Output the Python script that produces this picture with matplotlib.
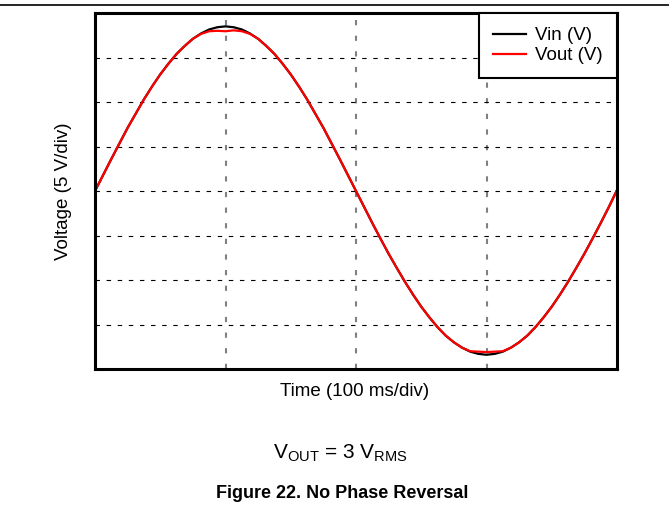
import matplotlib
matplotlib.use("Agg")
import matplotlib.pyplot as plt
from matplotlib.lines import Line2D

# time in divisions (100 ms/div), sampled every 1/16 div
time_div = [0, 0.0625, 0.125, 0.1875, 0.25, 0.3125, 0.375, 0.4375, 0.5,
            0.5625, 0.625, 0.6875, 0.75, 0.8125, 0.875, 0.9375, 1.0,
            1.0625, 1.125, 1.1875, 1.25, 1.3125, 1.375, 1.4375, 1.5,
            1.5625, 1.625, 1.6875, 1.75, 1.8125, 1.875, 1.9375, 2.0,
            2.0625, 2.125, 2.1875, 2.25, 2.3125, 2.375, 2.4375, 2.5,
            2.5625, 2.625, 2.6875, 2.75, 2.8125, 2.875, 2.9375, 3.0,
            3.0625, 3.125, 3.1875, 3.25, 3.3125, 3.375, 3.4375, 3.5,
            3.5625, 3.625, 3.6875, 3.75, 3.8125, 3.875, 3.9375, 4.0]
# voltage in divisions (5 V/div)
vin = [0.0, 0.36, 0.72, 1.07, 1.42, 1.74, 2.06, 2.35, 2.62,
       2.86, 3.08, 3.26, 3.42, 3.54, 3.63, 3.68, 3.70,
       3.68, 3.63, 3.54, 3.42, 3.26, 3.08, 2.86, 2.62,
       2.35, 2.06, 1.74, 1.42, 1.07, 0.72, 0.36, 0.0,
       -0.36, -0.72, -1.07, -1.41, -1.73, -2.04, -2.33, -2.60,
       -2.84, -3.06, -3.25, -3.40, -3.52, -3.61, -3.66, -3.68,
       -3.66, -3.61, -3.52, -3.40, -3.25, -3.06, -2.84, -2.60,
       -2.33, -2.04, -1.73, -1.41, -1.07, -0.72, -0.36, 0.02]
vout = [0.0, 0.36, 0.72, 1.07, 1.42, 1.74, 2.06, 2.35, 2.62,
        2.86, 3.08, 3.26, 3.42, 3.53, 3.59, 3.60, 3.59,
        3.61, 3.59, 3.53, 3.42, 3.26, 3.08, 2.86, 2.62,
        2.35, 2.06, 1.74, 1.42, 1.07, 0.72, 0.36, 0.0,
        -0.36, -0.72, -1.07, -1.41, -1.73, -2.04, -2.33, -2.60,
        -2.84, -3.06, -3.25, -3.40, -3.52, -3.60, -3.61, -3.62,
        -3.61, -3.60, -3.52, -3.40, -3.25, -3.06, -2.84, -2.60,
        -2.33, -2.04, -1.73, -1.41, -1.07, -0.72, -0.36, 0.02]

plt.rcParams["font.family"] = ["Liberation Sans", "DejaVu Sans"]

fig = plt.figure(figsize=(6.69, 5.12), dpi=100)
ax = fig.add_axes([95 / 669, 1 - 369 / 512, 522 / 669, 356 / 512])

ax.plot(time_div, vin, color="black", lw=1.6, label="Vin (V)")
ax.plot(time_div, vout, color="#ff0000", lw=1.6, label="Vout (V)")

ax.set_xlim(0, 4)
ax.set_ylim(-4, 4)
ax.set_xticks([1, 2, 3])
ax.set_yticks([-3, -2, -1, 0, 1, 2, 3])
ax.tick_params(length=0, labelbottom=False, labelleft=False)
ax.xaxis.grid(True, color="#808080", lw=1.5, ls=(0, (2.5, 5)))
ax.yaxis.grid(True, color="black", lw=0.8, ls=(0, (4, 6)))
for sp in ax.spines.values():
    sp.set_linewidth(2.2)

ax.set_xlabel("Time (100 ms/div)", fontsize=13.5)
ax.xaxis.set_label_coords(0.498, -0.062)
ax.xaxis.label.set_va("center")
ax.set_ylabel("Voltage (5 V/div)", fontsize=13.5)
ax.yaxis.set_label_coords(-0.06, 0.5)
ax.yaxis.label.set_va("center")

leg = ax.legend(loc="upper right", fontsize=13.5, fancybox=False,
                framealpha=1, edgecolor="black", borderaxespad=0,
                handlelength=1.75, handletextpad=0.5, labelspacing=0.15,
                borderpad=0.75)
leg.get_frame().set_linewidth(1.5)

fig.text(340 / 669, 1 - 453 / 512,
         r"$\mathregular{V_{OUT}}$ = 3 $\mathregular{V_{RMS}}$",
         fontsize=15, ha="center", va="center")
fig.text(342 / 669, 1 - 494 / 512, "Figure 22. No Phase Reversal",
         fontsize=13, fontweight="bold", ha="center", va="center")

fig.add_artist(Line2D([0, 1], [1 - 5 / 512, 1 - 5 / 512],
                      transform=fig.transFigure, color="black", lw=1.2))

fig.savefig("out.png", dpi=100)
